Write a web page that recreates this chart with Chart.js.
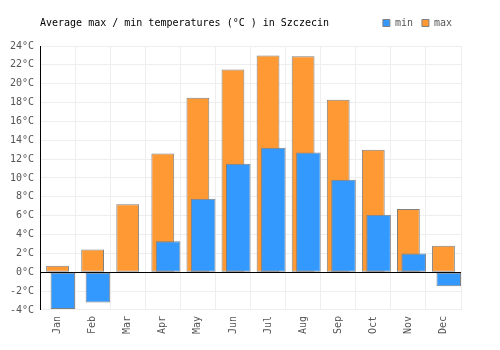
<!DOCTYPE html>
<html>
<head>
<meta charset="utf-8">
<script src="https://cdn.jsdelivr.net/npm/chart.js@4"></script>
<style>
  html, body { margin: 0; padding: 0; background: #fff; }
  #wrap { position: relative; width: 500px; height: 350px; }
  #title {
    position: absolute; left: 40px; top: 17px;
    font: 10px "DejaVu Sans Mono", monospace; line-height: 12px; color: #000;
  }
</style>
</head>
<body>
<div id="wrap">
  <canvas id="chart" width="500" height="350"></canvas>
  <div id="title">Average max / min temperatures (°C ) in Szczecin</div>
</div>
<script>
// Daten
const months = ["Jan", "Feb", "Mar", "Apr", "May", "Jun", "Jul", "Aug", "Sep", "Oct", "Nov", "Dec"];
const minTemps = [-3.9, -3.2, 0, 3.3, 7.8, 11.5, 13.2, 12.7, 9.8, 6.1, 2.0, -1.5];
const maxTemps = [0.7, 2.4, 7.2, 12.6, 18.5, 21.5, 23.0, 22.9, 18.3, 13.0, 6.7, 2.8];
const yMin = -4, yMax = 24, yStep = 2;

const monoFont = { family: "'DejaVu Sans Mono', monospace", size: 10 };

// min-Balken etwas nach rechts versetzt zeichnen
const shiftMinBars = {
  id: "shiftMinBars",
  beforeDatasetDraw(chart, args) {
    if (args.index !== 0) return;
    chart.ctx.save();
    chart.ctx.translate(5.3, 0);
  },
  afterDatasetDraw(chart, args) {
    if (args.index !== 0) return;
    chart.ctx.restore();
  }
};

// etwas mehr Platz unter der Legende
const legendSpace = {
  id: "legendSpace",
  beforeLayout(chart) {
    const legend = chart.legend;
    if (!legend || legend._patched) return;
    const fit = legend.fit;
    legend.fit = function () {
      fit.call(this);
      this.height += 8;
    };
    legend._patched = true;
  }
};

new Chart(document.getElementById("chart"), {
  type: "bar",
  data: {
    labels: months,
    datasets: [
      {
        label: "min",
        data: minTemps,
        backgroundColor: "#3399ff",
        borderColor: "#808080",
        borderWidth: 1,
        borderSkipped: false,
        barPercentage: 0.7,
        categoryPercentage: 1
      },
      {
        label: "max",
        data: maxTemps,
        backgroundColor: "#ff9933",
        borderColor: "#808080",
        borderWidth: 1,
        borderSkipped: false,
        barPercentage: 0.65,
        categoryPercentage: 1
      }
    ]
  },
  options: {
    responsive: false,
    animation: false,
    layout: { padding: { top: 9, right: 39, bottom: 10, left: 0 } },
    datasets: { bar: { grouped: false } },
    plugins: {
      tooltip: { enabled: false },
      legend: {
        position: "top",
        align: "end",
        labels: {
          boxWidth: 7,
          boxHeight: 7,
          padding: 9,
          color: "#555",
          font: monoFont
        }
      }
    },
    scales: {
      x: {
        grid: { color: "#eeeeee", drawTicks: false, offset: true },
        border: { color: "#eeeeee" },
        ticks: {
          color: "#555",
          font: monoFont,
          minRotation: 90,
          maxRotation: 90,
          padding: 6
        }
      },
      y: {
        min: yMin,
        max: yMax,
        afterFit: axis => { axis.width = 40; },
        grid: {
          drawTicks: false,
          color: ctx => (ctx.tick && ctx.tick.value === 0 ? "#000000" : "#eeeeee")
        },
        border: { color: "#000000" },
        ticks: {
          stepSize: yStep,
          color: "#555",
          font: monoFont,
          padding: 6,
          callback: v => v + "°C"
        }
      }
    }
  },
  plugins: [shiftMinBars, legendSpace]
});
</script>
</body>
</html>
